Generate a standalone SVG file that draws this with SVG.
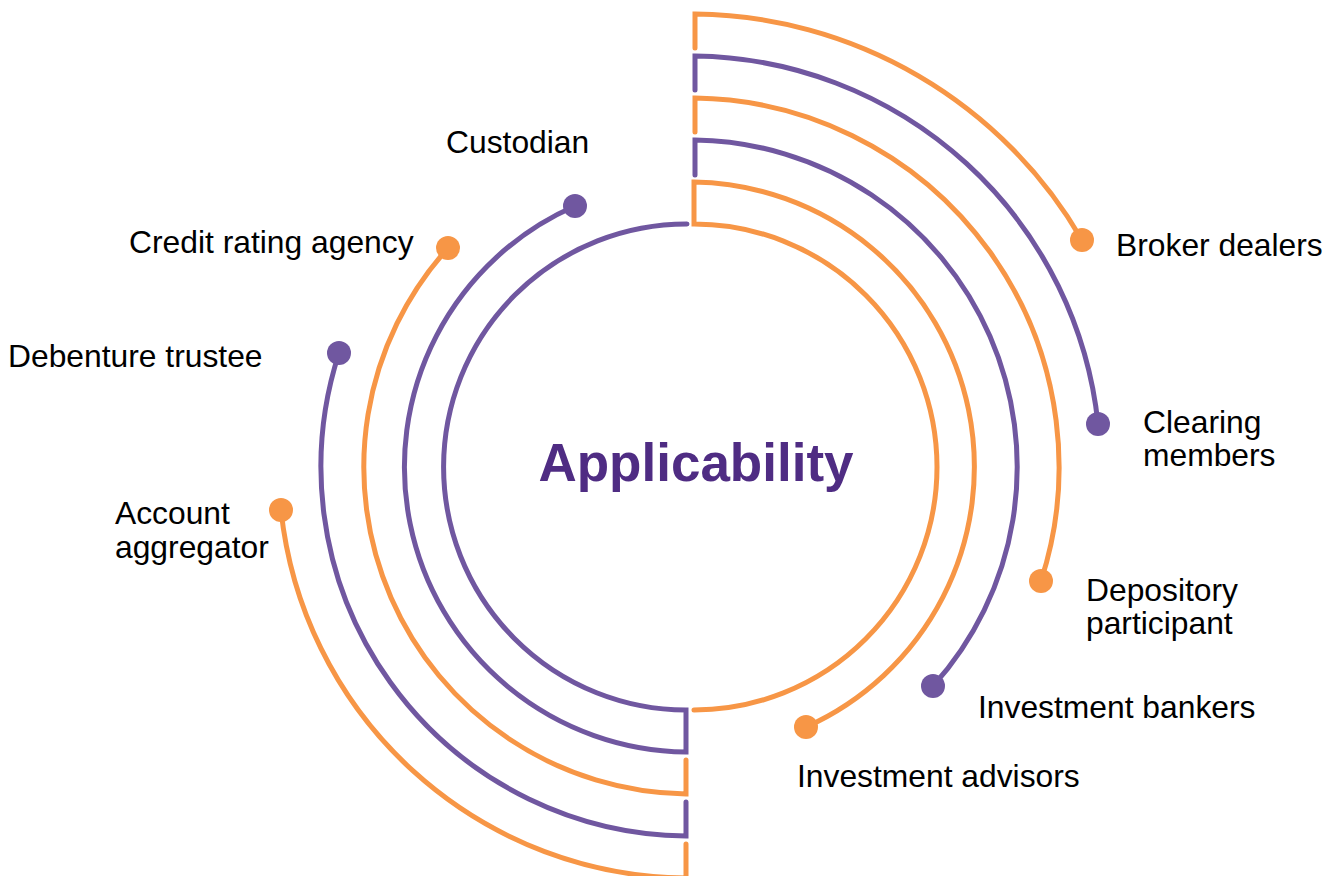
<svg xmlns="http://www.w3.org/2000/svg" width="1334" height="876" viewBox="0 0 1334 876">
<style>
.o{fill:none;stroke:#F79646;stroke-width:5;stroke-linecap:round}
.p{fill:none;stroke:#7057A0;stroke-width:5;stroke-linecap:round}
.od{fill:#F79646}
.pd{fill:#7057A0}
.lbl{font-family:"Liberation Sans",Arial,sans-serif;font-size:31.8px;fill:#000}
.ttl{font-family:"Liberation Sans",Arial,sans-serif;font-size:53px;font-weight:bold;fill:#4F2C83}
</style>
<rect width="1334" height="876" fill="#fff"/>
<g id="connectors">
<path class="o" d="M694,710 A243,243 0 0 0 694,224 L694,182 A285,285 0 0 1 806,727"/>
<path class="p" d="M695,175 L695,140 A327,327 0 0 1 933,686"/>
<path class="o" d="M695,132 L695,98 A369,369 0 0 1 1041,581"/>
<path class="p" d="M695,90 L695,56 A411,411 0 0 1 1098,424"/>
<path class="o" d="M695,48 L695,14 A453,453 0 0 1 1082,240"/>
<path class="p" d="M687,224 A243,243 0 0 0 686,710 L686,752 A285,285 0 0 1 575,206"/>
<path class="o" d="M686,760 L686,794 A327,327 0 0 1 448,248"/>
<path class="p" d="M686,802 L686,836 A369,369 0 0 1 339,353"/>
<path class="o" d="M686,844 L686,878 A411,411 0 0 1 281,510"/>
</g>
<g id="center"><text class="ttl" x="696" y="481" text-anchor="middle">Applicability</text></g>
<g id="broker-dealers"><circle class="od" cx="1082" cy="240" r="12"/><text class="lbl" x="1116" y="256">Broker dealers</text></g>
<g id="clearing-members"><circle class="pd" cx="1098" cy="424" r="12"/><text class="lbl" x="1143" y="433">Clearing</text><text class="lbl" x="1143" y="466">members</text></g>
<g id="depository-participant"><circle class="od" cx="1041" cy="581" r="12"/><text class="lbl" x="1086" y="601">Depository</text><text class="lbl" x="1086" y="634">participant</text></g>
<g id="investment-bankers"><circle class="pd" cx="933" cy="686" r="12"/><text class="lbl" x="978" y="718">Investment bankers</text></g>
<g id="investment-advisors"><circle class="od" cx="806" cy="727" r="12"/><text class="lbl" x="797" y="787">Investment advisors</text></g>
<g id="custodian"><circle class="pd" cx="575" cy="206" r="12"/><text class="lbl" x="446" y="153">Custodian</text></g>
<g id="credit-rating-agency"><circle class="od" cx="448" cy="248" r="12"/><text class="lbl" x="129" y="253">Credit rating agency</text></g>
<g id="debenture-trustee"><circle class="pd" cx="339" cy="353" r="12"/><text class="lbl" x="8" y="367">Debenture trustee</text></g>
<g id="account-aggregator"><circle class="od" cx="281" cy="510" r="12"/><text class="lbl" x="115" y="524">Account</text><text class="lbl" x="115" y="558">aggregator</text></g>
</svg>
